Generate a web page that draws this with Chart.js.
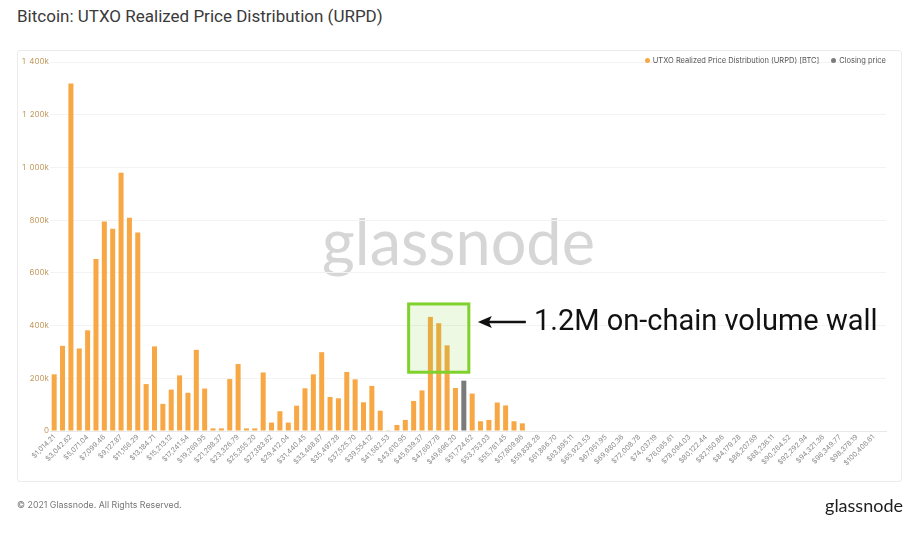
<!DOCTYPE html>
<html>
<head>
<meta charset="utf-8">
<script src="https://cdn.jsdelivr.net/npm/chart.js@4.4.1/dist/chart.umd.min.js"></script>
<style>
  html, body { margin: 0; padding: 0; background: #fff; }
  #wrap { position: relative; width: 918px; height: 537px; overflow: hidden; font-family: Roboto, "Noto Sans", sans-serif; }
  #title { position: absolute; left: 17px; top: 6px; font-size: 17px; color: #3a3a3a; font-weight: 400; white-space: nowrap; }
  #panel { position: absolute; left: 17px; top: 50px; width: 885px; height: 432px; border: 1px solid #ececec; border-radius: 3px; box-sizing: border-box; }
  #watermark { position: absolute; left: 322px; top: 203px; font-family: Lato, "Open Sans", sans-serif; font-size: 63px; color: #d6d6d6; letter-spacing: 0px; white-space: nowrap; }
  canvas { position: absolute; left: 0; top: 0; }
  #legend { position: absolute; right: 32px; top: 56px; font-family: Inter, "Noto Sans", sans-serif; font-size: 7.5px; color: #555; white-space: nowrap; }
  #legend span.dot { display: inline-block; width: 5px; height: 5px; border-radius: 50%; margin-right: 3px; vertical-align: 0px; }
  #legend span.item { margin-left: 12px; }
  #note { position: absolute; left: 534px; top: 303px; font-family: Roboto, sans-serif; font-size: 29px; color: #111; white-space: nowrap; }
  #footer { position: absolute; left: 17px; top: 499px; font-family: Inter, "Noto Sans", sans-serif; font-size: 8.8px; color: #777; white-space: nowrap; }
  #logo { position: absolute; right: 15px; top: 494px; font-family: Lato, "Open Sans", sans-serif; font-size: 18px; color: #1e1e1e; white-space: nowrap; }
</style>
</head>
<body>
<div id="wrap">
  <div id="title">Bitcoin: UTXO Realized Price Distribution (URPD)</div>
  <div id="panel"></div>
  <div id="watermark">glassnode</div>
  <canvas id="c" width="918" height="537"></canvas>
  <div id="legend"><span class="item"><span class="dot" style="background:#f7a744"></span>UTXO Realized Price Distribution (URPD) [BTC]</span><span class="item"><span class="dot" style="background:#7b7b7b"></span>Closing price</span></div>
  <div id="note">1.2M on-chain volume wall</div>
  <div id="footer">© 2021 Glassnode. All Rights Reserved.</div>
  <div id="logo">glassnode</div>
</div>
<script>
const categories = [
  "$1,014.21","$2,028.41","$3,042.62","$4,056.83","$5,071.04","$6,085.24","$7,099.46","$8,113.66","$9,127.87","$10,142.08",
  "$11,156.29","$12,170.49","$13,184.71","$14,198.91","$15,213.12","$16,227.33","$17,241.54","$18,255.74","$19,269.95","$20,284.16",
  "$21,298.37","$22,312.58","$23,326.79","$24,340.99","$25,355.20","$26,369.41","$27,383.62","$28,397.82","$29,412.04","$30,426.24",
  "$31,440.45","$32,454.66","$33,468.87","$34,483.07","$35,497.28","$36,511.49","$37,525.70","$38,539.91","$39,554.12","$40,568.32",
  "$41,582.53","$42,596.74","$43,610.95","$44,625.16","$45,639.37","$46,653.57","$47,667.78","$48,681.99","$49,696.20","$50,710.40",
  "$51,724.62","$52,738.82","$53,753.03","$54,767.24","$55,781.45","$56,795.65","$57,809.86","$58,824.07","$59,838.28","$60,852.49",
  "$61,866.70","$62,880.90","$63,895.11","$64,909.32","$65,923.53","$66,937.74","$67,951.95","$68,966.15","$69,980.36","$70,994.57",
  "$72,008.78","$73,022.98","$74,037.19","$75,051.40","$76,065.61","$77,079.82","$78,094.03","$79,108.23","$80,122.44","$81,136.65",
  "$82,150.86","$83,165.07","$84,179.28","$85,193.48","$86,207.69","$87,221.90","$88,236.11","$89,250.32","$90,264.52","$91,278.73",
  "$92,292.94","$93,307.15","$94,321.36","$95,335.56","$96,349.77","$97,363.98","$98,378.19","$99,392.40","$100,406.61","$101,420.81"
];
const urpdBTC = [
  215000, 323000, 1318000, 313000, 382000, 653000, 795000, 767000, 980000, 809000,
  753000, 178000, 321000, 103000, 157000, 211000, 145000, 308000, 161000, 10000,
  10000, 197000, 254000, 10000, 10000, 222000, 32000, 75000, 32000, 96000,
  162000, 215000, 299000, 129000, 124000, 224000, 196000, 109000, 171000, 77000,
  3000, 23000, 42000, 114000, 154000, 433000, 409000, 325000, 163000, null,
  142000, 37000, 42000, 108000, 97000, 37000, 29000, 0, 0, 0,
  0, 0, 0, 0, 0, 0, 0, 0, 0, 0,
  0, 0, 0, 0, 0, 0, 0, 0, 0, 0,
  0, 0, 0, 0, 0, 0, 0, 0, 0, 0,
  0, 0, 0, 0, 0, 0, 0, 0, 0, 0
];
const closingPriceBin = "$50,710.40";
const closingPriceBTC = 191000;
const yTicks = [0, 200000, 400000, 600000, 800000, 1000000, 1200000, 1400000];
const wallBins = ["$46,653.57", "$47,667.78", "$48,681.99"];
const wallRange = [223000, 482000];

const closingData = categories.map(c => c === closingPriceBin ? closingPriceBTC : null);

function fmtK(v) {
  if (v === 0) return '0';
  const k = Math.round(v / 1000);
  if (k >= 1000) return Math.floor(k / 1000) + '\u2002' + String(k % 1000).padStart(3, '0') + 'k';
  return k + 'k';
}

const wallPlugin = {
  id: 'wall',
  afterDatasetsDraw(chart) {
    const {ctx, scales: {x, y}} = chart;
    const i0 = categories.indexOf(wallBins[0]);
    const i1 = categories.indexOf(wallBins[wallBins.length - 1]);
    const step = x.getPixelForValue(1) - x.getPixelForValue(0);
    const left = x.getPixelForValue(i0) - 2.6 * step;
    const right = x.getPixelForValue(i1) + 2.6 * step;
    const top = y.getPixelForValue(wallRange[1]);
    const bottom = y.getPixelForValue(wallRange[0]);
    ctx.save();
    ctx.fillStyle = 'rgba(130, 210, 60, 0.14)';
    ctx.fillRect(left, top, right - left, bottom - top);
    ctx.strokeStyle = '#7fd12b';
    ctx.lineWidth = 3;
    ctx.strokeRect(left, top, right - left, bottom - top);
    // arrow
    const ay = top + 18;
    const ax0 = right + 9;
    const ax1 = right + 57;
    ctx.strokeStyle = '#111';
    ctx.fillStyle = '#111';
    ctx.lineWidth = 2.5;
    ctx.beginPath();
    ctx.moveTo(ax0 + 10, ay);
    ctx.lineTo(ax1, ay);
    ctx.stroke();
    ctx.beginPath();
    ctx.moveTo(ax0, ay);
    ctx.lineTo(ax0 + 14, ay - 6);
    ctx.lineTo(ax0 + 11, ay);
    ctx.lineTo(ax0 + 14, ay + 6);
    ctx.closePath();
    ctx.fill();
    ctx.restore();
  }
};

new Chart(document.getElementById('c'), {
  type: 'bar',
  data: {
    labels: categories,
    datasets: [
      { label: 'UTXO Realized Price Distribution (URPD) [BTC]', data: urpdBTC, backgroundColor: '#f7a744', barPercentage: 0.6, categoryPercentage: 1.0 },
      { label: 'Closing price', data: closingData, backgroundColor: '#7b7b7b', barPercentage: 0.6, categoryPercentage: 1.0 }
    ]
  },
  options: {
    responsive: false,
    animation: false,
    layout: { padding: { left: 0, right: 32, top: 62, bottom: 54 } },
    plugins: { legend: { display: false }, tooltip: { enabled: false } },
    scales: {
      x: {
        stacked: true,
        grid: { display: false, drawTicks: false },
        border: { display: true, color: '#e8e8e8' },
        ticks: {
          autoSkip: false, minRotation: 45, maxRotation: 45, padding: 2,
          color: '#8a8a8a', font: { family: 'Inter, "Noto Sans", sans-serif', size: 7 },
          callback: function(val, idx) { return idx % 2 === 0 ? categories[idx] : ''; }
        },
        afterFit(scale) { scale.height = 52; }
      },
      y: {
        stacked: true,
        min: 0, max: 1400000,
        afterBuildTicks(scale) { scale.ticks = yTicks.map(v => ({ value: v })); },
        grid: { color: '#f3f3f3', drawTicks: false },
        border: { display: false },
        ticks: {
          padding: 1, color: '#c39a5e', font: { family: 'Inter, "Noto Sans", sans-serif', size: 8 },
          callback: v => fmtK(v)
        },
        afterFit(scale) { scale.width = 50; }
      }
    }
  },
  plugins: [wallPlugin]
});
</script>
</body>
</html>
